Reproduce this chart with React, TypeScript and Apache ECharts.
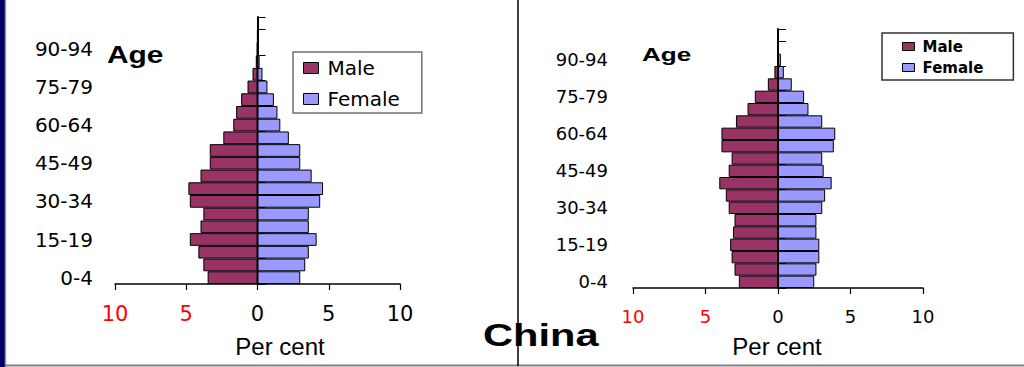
import React, { useEffect, useRef } from "react";
import * as echarts from "echarts";

const ageGroups = [
  "0-4", "5-9", "10-14", "15-19", "20-24", "25-29", "30-34", "35-39", "40-44", "45-49",
  "50-54", "55-59", "60-64", "65-69", "70-74", "75-79", "80-84", "85-89", "90-94", "95-99", "100+",
];
const leftMale = [3.5, 3.8, 4.15, 4.75, 4.0, 3.8, 4.75, 4.85, 4.0, 3.35, 3.35, 2.4, 1.7, 1.5, 1.15, 0.7, 0.35, 0.12, 0.04, 0.01, 0.0];
const leftFemale = [3.0, 3.35, 3.6, 4.15, 3.6, 3.6, 4.4, 4.6, 3.8, 3.0, 3.0, 2.2, 1.6, 1.4, 1.15, 0.7, 0.35, 0.15, 0.06, 0.02, 0.01];
const rightMale = [2.7, 3.0, 3.2, 3.3, 3.1, 3.0, 3.4, 3.6, 4.05, 3.4, 3.2, 3.9, 3.9, 2.9, 2.1, 1.6, 0.7, 0.25, 0.05, 0.01, 0.0];
const rightFemale = [2.5, 2.65, 2.85, 2.85, 2.65, 2.65, 3.05, 3.25, 3.7, 3.15, 3.05, 3.85, 3.95, 3.05, 2.1, 1.8, 0.95, 0.4, 0.2, 0.05, 0.01];
const seriesNames = ["Male", "Female"];
const titleText = "China";
const xTitle = "Per cent";
const yTitle = "Age";
const xMin = -10;
const xMax = 10;
const xStep = 5;

const MALE_COLOR = "#993366";
const FEMALE_COLOR = "#9999FF";

type Panel = {
  male: number[];
  female: number[];
  grid: { left: number; top: number; width: number; height: number };
  yFont: number;
  yMargin: number;
  xFont: number;
  xMargin: number;
};

const panels: Panel[] = [
  { male: leftMale, female: leftFemale, grid: { left: 115, top: 17, width: 285, height: 267 }, yFont: 20, yMargin: 22, xFont: 21, xMargin: 19 },
  { male: rightMale, female: rightFemale, grid: { left: 633, top: 29, width: 290, height: 259 }, yFont: 18, yMargin: 25, xFont: 18, xMargin: 19 },
];

function buildOption() {
  const grid: any[] = [];
  const xAxis: any[] = [];
  const yAxis: any[] = [];
  const series: any[] = [];
  panels.forEach((p, i) => {
    grid.push({ ...p.grid });
    xAxis.push({
      type: "value",
      gridIndex: i,
      min: xMin,
      max: xMax,
      interval: xStep,
      splitLine: { show: false },
      axisLine: { show: true, lineStyle: { color: "#000", width: 1.5 } },
      axisTick: { show: true, length: 6, lineStyle: { color: "#000", width: 1.2 } },
      axisLabel: {
        fontFamily: "DejaVu Sans",
        fontSize: p.xFont,
        margin: p.xMargin,
        formatter: (v: number) => String(Math.abs(v)),
        color: (v: any) => (parseFloat(v) < 0 ? "#FF0000" : "#000"),
      },
    });
    // labels axis at the left edge
    yAxis.push({
      type: "category",
      gridIndex: i,
      data: ageGroups,
      axisLine: { show: false, onZero: false },
      axisTick: { show: false },
      axisLabel: {
        interval: 2,
        fontFamily: "DejaVu Sans",
        fontSize: p.yFont,
        color: "#000",
        margin: p.yMargin,
      },
    });
    // zero axis with ticks
    yAxis.push({
      type: "category",
      gridIndex: i,
      data: ageGroups,
      axisLine: { show: true, onZero: true, onZeroAxisIndex: i, lineStyle: { color: "#000", width: 2 } },
      axisTick: { show: true, length: 8, lineStyle: { color: "#000", width: 1 } },
      axisLabel: { show: false },
    });
    const common = {
      type: "bar",
      xAxisIndex: i,
      yAxisIndex: i * 2,
      barCategoryGap: "0%",
      barGap: "-100%",
      z: 1,
    };
    series.push({
      ...common,
      name: seriesNames[0],
      data: p.male.map((v) => -v),
      itemStyle: { color: MALE_COLOR, borderColor: "#000", borderWidth: 1 },
    });
    series.push({
      ...common,
      name: seriesNames[1],
      data: p.female,
      itemStyle: { color: FEMALE_COLOR, borderColor: "#000", borderWidth: 1 },
    });
  });

  const legend = [
    {
      orient: "vertical",
      left: 293,
      top: 52,
      data: seriesNames,
      itemWidth: 15,
      itemHeight: 11,
      itemGap: 11,
      padding: [6, 22, 4, 10],
      borderColor: "#707070",
      borderWidth: 1.5,
      icon: "rect",
      selectedMode: false,
      itemStyle: { borderColor: "#000", borderWidth: 1 },
      textStyle: { fontFamily: "DejaVu Sans", fontSize: 20, lineHeight: 20, color: "#000", padding: [0, 0, 0, 4] },
    },
    {
      orient: "vertical",
      left: 882,
      top: 33,
      data: seriesNames,
      itemWidth: 12,
      itemHeight: 8,
      itemGap: 6,
      padding: [6, 30, 5, 20],
      borderColor: "#333",
      borderWidth: 1.5,
      icon: "rect",
      selectedMode: false,
      itemStyle: { borderColor: "#000", borderWidth: 1 },
      textStyle: { fontFamily: "DejaVu Sans", fontWeight: "bold", fontSize: 15, lineHeight: 15, color: "#000", padding: [0, 0, 0, 3] },
    },
  ];

  const graphic: any[] = [
    { type: "rect", shape: { x: 0, y: 0, width: 5, height: 367 }, style: { fill: "#000066" }, silent: true },
    { type: "line", shape: { x1: 5.5, y1: 0, x2: 5.5, y2: 367 }, style: { stroke: "#9a9a9a", lineWidth: 1.5 }, silent: true },
    { type: "line", shape: { x1: 5, y1: 365.5, x2: 1024, y2: 365.5 }, style: { stroke: "#808080", lineWidth: 2 }, silent: true },
    { type: "line", shape: { x1: 518, y1: 0, x2: 518, y2: 366 }, style: { stroke: "#000", lineWidth: 1.5 }, silent: true },
    {
      type: "text", x: 107, y: 55, scaleX: 1.3,
      style: { text: yTitle, font: "bold 23px 'Liberation Sans'", fill: "#000", textVerticalAlign: "middle" },
    },
    {
      type: "text", x: 642, y: 55, scaleX: 1.45,
      style: { text: yTitle, font: "bold 18px 'Liberation Sans'", fill: "#000", textVerticalAlign: "middle" },
    },
    {
      type: "text", x: 483, y: 335, scaleX: 1.3,
      style: { text: titleText, font: "bold 32px 'Liberation Sans'", fill: "#000", textVerticalAlign: "middle" },
    },
    {
      type: "text", x: 280, y: 346,
      style: { text: xTitle, font: "24px 'Liberation Sans'", fill: "#000", textAlign: "center", textVerticalAlign: "middle" },
    },
    {
      type: "text", x: 777, y: 346,
      style: { text: xTitle, font: "24px 'Liberation Sans'", fill: "#000", textAlign: "center", textVerticalAlign: "middle" },
    },
  ];

  return {
    animation: false,
    backgroundColor: "#fff",
    grid,
    xAxis,
    yAxis,
    series,
    legend,
    graphic,
  };
}

export default function App() {
  const ref = useRef<HTMLDivElement>(null);
  useEffect(() => {
    if (!ref.current) return;
    const chart = echarts.init(ref.current, undefined, { renderer: "svg" });
    chart.setOption(buildOption() as any);
    return () => chart.dispose();
  }, []);
  return (
    <div
      ref={ref}
      style={{ position: "fixed", left: 0, top: 0, width: 1024, height: 367, background: "#fff" }}
    />
  );
}
